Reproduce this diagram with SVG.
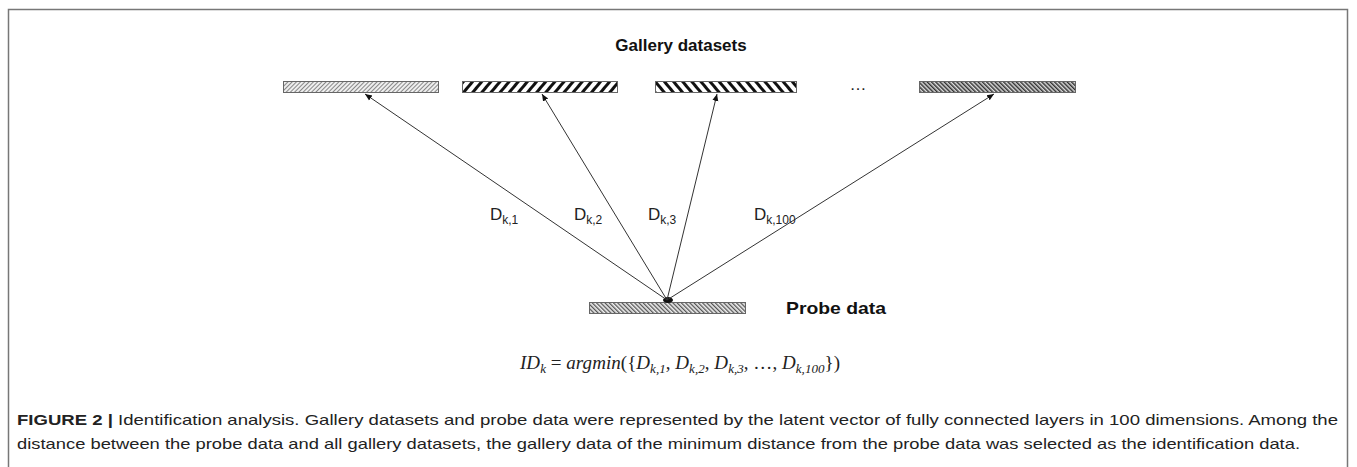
<svg xmlns="http://www.w3.org/2000/svg" width="1357" height="467" viewBox="0 0 1357 467">
<style>
.bar{stroke:#666;stroke-width:1}
.conn{stroke:#333;stroke-width:1;fill:none;marker-end:url(#ah)}
.lbl{font-family:"Liberation Sans",Arial,sans-serif;font-size:17px;fill:#222}
.sub{font-size:12px}
.title{font-family:"Liberation Sans",Arial,sans-serif;font-size:17px;font-weight:bold;fill:#111}
.math{font-family:"Liberation Serif","DejaVu Serif",serif;font-size:19px;fill:#222}
.cap{font-family:"Liberation Sans",Arial,sans-serif;font-size:15px;fill:#222}
</style>
<defs>
<marker id="ah" markerWidth="8" markerHeight="8" refX="7" refY="4" orient="auto" markerUnits="userSpaceOnUse">
<path d="M0,1 L7,4 L0,7 Z" fill="#111"/>
</marker>
<pattern id="p1" width="3" height="3" patternUnits="userSpaceOnUse" patternTransform="rotate(45)">
<rect width="3" height="3" fill="#eee"/><rect width="1" height="3" fill="#888"/>
</pattern>
<pattern id="p2" width="7" height="7" patternUnits="userSpaceOnUse" patternTransform="rotate(40)">
<rect width="7" height="7" fill="#fff"/><rect width="3" height="7" fill="#111"/>
</pattern>
<pattern id="p3" width="7" height="7" patternUnits="userSpaceOnUse" patternTransform="rotate(-40)">
<rect width="7" height="7" fill="#fff"/><rect width="3" height="7" fill="#111"/>
</pattern>
<pattern id="p4" width="3" height="3" patternUnits="userSpaceOnUse" patternTransform="rotate(-45)">
<rect width="3" height="3" fill="#ddd"/><rect width="1.5" height="3" fill="#333"/>
</pattern>
<pattern id="p5" width="3" height="3" patternUnits="userSpaceOnUse" patternTransform="rotate(-45)">
<rect width="3" height="3" fill="#eee"/><rect width="1.3" height="3" fill="#555"/>
</pattern>
</defs>
<rect x="0" y="0" width="1357" height="467" fill="#fff"/>
<rect x="8.5" y="9.5" width="1339" height="480" fill="none" stroke="#777" stroke-width="1.5"/>

<text class="title" x="681" y="51" text-anchor="middle">Gallery datasets</text>

<g id="gallery1"><rect class="bar" x="283.5" y="81.5" width="155" height="11" fill="url(#p1)"/></g>
<g id="gallery2"><rect class="bar" x="462.5" y="81.5" width="155" height="11" fill="url(#p2)"/></g>
<g id="gallery3"><rect class="bar" x="655.5" y="81.5" width="141" height="11" fill="url(#p3)"/></g>
<g id="ellipsis"><text class="lbl" x="858" y="90" text-anchor="middle" font-size="14">…</text></g>
<g id="gallery4"><rect class="bar" x="919.5" y="81.5" width="156" height="11" fill="url(#p4)"/></g>

<g id="probe">
<rect class="bar" x="589.5" y="302.5" width="156" height="11" fill="url(#p5)"/>
<ellipse cx="668" cy="300" rx="5" ry="3" fill="#111"/>
<text class="title" x="786" y="314" font-size="19" textLength="100" lengthAdjust="spacingAndGlyphs">Probe data</text>
</g>

<g id="connectors">
<line class="conn" x1="667" y1="300" x2="365" y2="94"/>
<line class="conn" x1="667" y1="300" x2="542" y2="94"/>
<line class="conn" x1="667" y1="300" x2="717" y2="94"/>
<line class="conn" x1="667" y1="300" x2="994" y2="94"/>
</g>

<g id="labels">
<text class="lbl" x="490" y="220">D<tspan class="sub" dy="4">k,1</tspan></text>
<text class="lbl" x="574" y="220">D<tspan class="sub" dy="4">k,2</tspan></text>
<text class="lbl" x="648" y="220">D<tspan class="sub" dy="4">k,3</tspan></text>
<text class="lbl" x="754" y="220">D<tspan class="sub" dy="4">k,100</tspan></text>
</g>

<g id="formula">
<text class="math" x="520" y="369" textLength="320" lengthAdjust="spacing"><tspan font-style="italic">ID</tspan><tspan font-style="italic" font-size="13" dy="4">k</tspan><tspan dy="-4"> = </tspan><tspan font-style="italic">argmin</tspan>({<tspan font-style="italic">D</tspan><tspan font-style="italic" font-size="13" dy="4">k,1</tspan><tspan dy="-4">, </tspan><tspan font-style="italic">D</tspan><tspan font-style="italic" font-size="13" dy="4">k,2</tspan><tspan dy="-4">, </tspan><tspan font-style="italic">D</tspan><tspan font-style="italic" font-size="13" dy="4">k,3</tspan><tspan dy="-4">, …, </tspan><tspan font-style="italic">D</tspan><tspan font-style="italic" font-size="13" dy="4">k,100</tspan><tspan dy="-4">})</tspan></text>
</g>

<g id="caption">
<text class="cap" x="17" y="425" textLength="1321" lengthAdjust="spacingAndGlyphs"><tspan font-weight="bold">FIGURE 2 |</tspan> Identification analysis. Gallery datasets and probe data were represented by the latent vector of fully connected layers in 100 dimensions. Among the</text>
<text class="cap" x="17" y="449" textLength="1283" lengthAdjust="spacingAndGlyphs">distance between the probe data and all gallery datasets, the gallery data of the minimum distance from the probe data was selected as the identification data.</text>
</g>
</svg>
